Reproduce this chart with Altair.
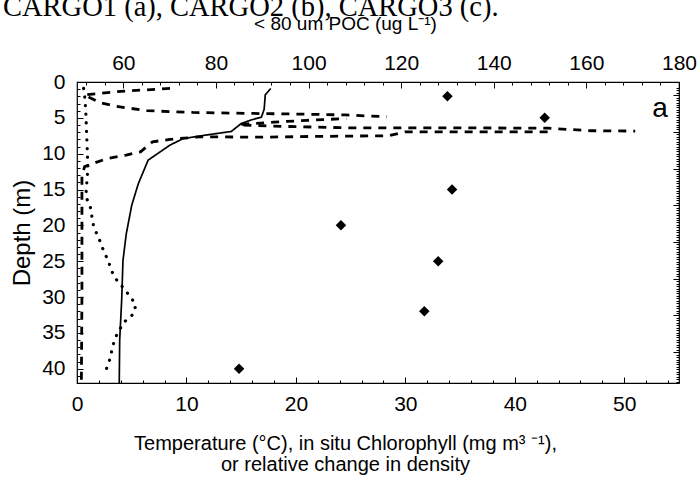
import altair as alt
import pandas as pd

# ---------------- data ----------------
# Temperature profile (solid line), bottom axis units
temp_val = [17.7, 17.2, 17.1, 16.85, 15.9, 15.0, 14.1, 11.8, 9.7, 8.5, 6.5, 5.6, 5.0, 4.5, 4.2, 4.08, 3.9, 3.86]
temp_depth = [0.9, 1.8, 3.8, 4.9, 5.3, 5.8, 6.9, 7.4, 7.9, 8.8, 10.9, 14.2, 17.2, 21.2, 24.9, 30.5, 36, 42]

# dashed profiles
d1_val = [8.5, 4.0, 0.7, 2.1, 3.6, 6.4, 10.6, 16.7, 21.3, 24.5, 28.3]
d1_depth = [0.9, 1.3, 1.8, 2.9, 3.4, 4.0, 4.25, 4.4, 4.5, 4.6, 4.85]

d2_val = [15.0, 18.0, 21.0, 24.6]
d2_depth = [5.9, 5.6, 5.35, 5.1]

d3_val = [15.2, 19.0, 25.0, 35.0, 43.0, 47.0, 51.0]
d3_depth = [6.0, 6.2, 6.4, 6.4, 6.45, 6.8, 6.85]

d4_val = [43.0, 30.0, 28.5, 21.3, 17.0, 11.2, 8.5, 6.9, 5.8, 4.5, 2.7, 0.7, 0.45, 0.45, 0.45, 0.4]
d4_depth = [6.95, 6.95, 7.5, 7.6, 7.7, 7.65, 8.0, 8.35, 9.75, 10.2, 10.7, 11.8, 13, 20, 30, 42]

# dotted profile
dot_val = [0.6, 0.7, 0.8, 0.85, 0.9, 0.95, 1.0, 0.9, 0.8, 1.2, 1.34, 1.49, 1.8, 2.16, 2.46, 2.86, 3.1,
           3.56, 4.22, 4.84, 5.38, 5.14, 4.38, 3.86, 3.47, 3.22, 3.07, 2.76, 2.49]
dot_depth = [0.9, 2, 4, 6, 8, 10, 12, 14, 16, 17.3, 18.6, 19.9, 21.2, 22.4, 23.7, 24.9, 26.2,
             27.5, 28.7, 29.9, 31.1, 32.4, 33.4, 34.6, 35.8, 37.1, 38.4, 39.7, 41]

# < 80 um POC (diamonds, top axis)
poc_val = [130, 151, 131, 107, 128, 125, 85]
poc_depth = [2, 5, 15, 20, 25, 32, 40]

# axis tick values
x_major = [0, 10, 20, 30, 40, 50]
x_minor = list(range(0, 55, 2))
y_major = [0, 5, 10, 15, 20, 25, 30, 35, 40]
y_minor = list(range(0, 43, 1))
top_major = [60, 80, 100, 120, 140, 160, 180]
top_minor = list(range(52, 181, 4))
right_major = [0, 5, 10, 15, 20, 25, 30, 35]
right_minor = [v / 3 for v in range(-3, 118, 1)]

header_text = "CARGO1 (a), CARGO2 (b), CARGO3 (c)."
panel_label = "a"
x_title = ["Temperature (\u00b0C), in situ Chlorophyll (mg m\u00b3 \u207b\u00b9),", "or relative change in density"]
top_title = "< 80 um POC (ug L\u207b\u00b9)"
y_title = "Depth (m)"

# ---------------- tables ----------------
def frame(name, style, xs, ds):
    return pd.DataFrame({"series": name, "style": style, "x": xs, "depth": ds, "i": list(range(len(xs)))})

lines_df = pd.concat([
    frame("temp", "solid", temp_val, temp_depth),
    frame("d1", "dash", d1_val, d1_depth),
    frame("d2", "dash", d2_val, d2_depth),
    frame("d3", "dash", d3_val, d3_depth),
    frame("d4", "dash", d4_val, d4_depth),
], ignore_index=True)
dots_df = frame("dot", "dot", dot_val, dot_depth)
poc_df = pd.DataFrame({"poc": poc_val, "depth": poc_depth})

FONT = "Liberation Sans"
W, H = 602, 301
OFF = 6

xs = alt.Scale(domain=[0, 55], nice=False, zero=False)
ys = alt.Scale(domain=[0, 42], nice=False, zero=False, reverse=True)
ps = alt.Scale(domain=[50, 180], nice=False, zero=False)
rs = alt.Scale(domain=[-1.8, 39.2], nice=False, zero=False, reverse=True)

common = dict(domain=False, grid=False, labelFont=FONT, labelFontSize=21, labelColor="black",
              labelFlush=False, tickColor="black", titleFont=FONT, titleColor="black",
              titleFontWeight="normal")

lines = alt.Chart(lines_df).mark_line(color="black", strokeCap="butt").encode(
    x=alt.X("x:Q", scale=xs, axis=alt.Axis(
        orient="bottom", values=x_major, tickSize=OFF, offset=-OFF, labelPadding=10,
        title=x_title, titleFontSize=20, titleLineHeight=21, titleX=268, titleY=56,
        titleAlign="center", titleAnchor="start", titleBaseline="top", **common)),
    y=alt.Y("depth:Q", scale=ys, axis=alt.Axis(
        orient="left", values=y_major, tickSize=OFF, offset=-OFF, labelPadding=12,
        title=y_title, titleFontSize=24, titleX=-61, titleY=H / 2, titleAngle=-90,
        titleAlign="center", titleBaseline="middle", **common)),
    detail="series:N",
    order="i:Q",
    strokeDash=alt.StrokeDash("style:N", scale=alt.Scale(domain=["solid", "dash"], range=[[1, 0], [8, 7]]), legend=None),
    strokeWidth=alt.StrokeWidth("style:N", scale=alt.Scale(domain=["solid", "dash"], range=[1.7, 2.8]), legend=None),
)

dots = alt.Chart(dots_df).mark_line(color="black", strokeCap="round", strokeWidth=3.2, strokeDash=[0.1, 8.5]).encode(
    x=alt.X("x:Q", scale=xs, axis=None),
    y=alt.Y("depth:Q", scale=ys, axis=None),
    order="i:Q",
)

minor1 = alt.Chart(lines_df).mark_point(opacity=0).encode(
    x=alt.X("x:Q", scale=xs, axis=alt.Axis(orient="bottom", values=x_minor, tickSize=3, offset=-3,
                                           labels=False, title=None, domain=False, grid=False, tickColor="black")),
    y=alt.Y("depth:Q", scale=ys, axis=alt.Axis(orient="left", values=y_minor, tickSize=3, offset=-3,
                                               labels=False, title=None, domain=False, grid=False, tickColor="black")),
)

poc = alt.Chart(poc_df).mark_point(shape="diamond", filled=True, color="black", size=110, opacity=1).encode(
    x=alt.X("poc:Q", scale=ps, axis=alt.Axis(
        orient="top", values=top_major, tickSize=OFF, offset=-OFF, labelPadding=9,
        title=top_title, titleFontSize=19, titleX=268, titleY=-65, titleAlign="center",
        titleAnchor="start", titleBaseline="middle", **common)),
    y=alt.Y("depth:Q", scale=ys, axis=None),
)

minor2 = alt.Chart(poc_df).mark_point(opacity=0).encode(
    x=alt.X("poc:Q", scale=ps, axis=alt.Axis(orient="top", values=top_minor, tickSize=3, offset=-3,
                                             labels=False, title=None, domain=False, grid=False, tickColor="black")),
    y=alt.Y("depth:Q", scale=rs, axis=alt.Axis(orient="right", values=right_major, tickSize=OFF, offset=-OFF,
                                               labels=False, title=None, domain=False, grid=False, tickColor="black")),
)

minor3 = alt.Chart(poc_df).mark_point(opacity=0).encode(
    x=alt.X("poc:Q", scale=ps, axis=None),
    y=alt.Y("depth:Q", scale=rs, axis=alt.Axis(orient="right", values=right_minor, tickSize=3, offset=-3,
                                               labels=False, title=None, domain=False, grid=False, tickColor="black")),
)

label_a = alt.Chart(pd.DataFrame({"t": [panel_label]})).mark_text(
    font=FONT, fontSize=28, align="center", baseline="alphabetic", color="black"
).encode(x=alt.value(583), y=alt.value(34.5), text="t:N")

header = alt.Chart(pd.DataFrame({"t": [header_text]})).mark_text(
    font="Liberation Serif", fontSize=28.5, align="left", baseline="alphabetic", color="black"
).encode(x=alt.value(-74), y=alt.value(-66), text="t:N")

chart = alt.layer(lines, dots, minor1, poc, minor2, minor3, label_a, header).resolve_scale(
    x="independent", y="independent"
).properties(
    width=W, height=H,
    autosize=alt.AutoSizeParams(type="none"),
    padding={"left": 77, "top": 82, "right": 21, "bottom": 98},
).configure_view(stroke="black", strokeWidth=1.2)

chart.save("out.html", embed_options={"renderer": "svg", "actions": False})
